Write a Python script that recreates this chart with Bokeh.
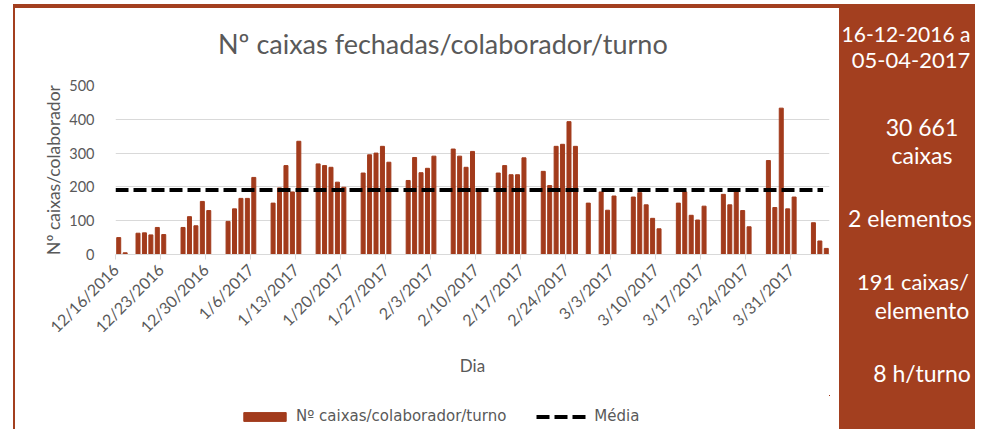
import math
import pandas as pd
from bokeh.plotting import figure
from bokeh.models import (ColumnDataSource, Range1d, FixedTicker, Legend, LegendItem, Div)
from bokeh.layouts import row, column
from bokeh.embed import file_html
from bokeh.resources import INLINE

# ---------------- data ----------------
dates = [
    "2016-12-16", "2016-12-17",
    "2016-12-19", "2016-12-20", "2016-12-21", "2016-12-22", "2016-12-23",
    "2016-12-26", "2016-12-27", "2016-12-28", "2016-12-29", "2016-12-30",
    "2017-01-02", "2017-01-03", "2017-01-04", "2017-01-05", "2017-01-06",
    "2017-01-09", "2017-01-10", "2017-01-11", "2017-01-12", "2017-01-13",
    "2017-01-16", "2017-01-17", "2017-01-18", "2017-01-19", "2017-01-20",
    "2017-01-23", "2017-01-24", "2017-01-25", "2017-01-26", "2017-01-27",
    "2017-01-30", "2017-01-31", "2017-02-01", "2017-02-02", "2017-02-03",
    "2017-02-06", "2017-02-07", "2017-02-08", "2017-02-09", "2017-02-10",
    "2017-02-13", "2017-02-14", "2017-02-15", "2017-02-16", "2017-02-17",
    "2017-02-20", "2017-02-21", "2017-02-22", "2017-02-23", "2017-02-24", "2017-02-25",
    "2017-02-27", "2017-03-01", "2017-03-02", "2017-03-03",
    "2017-03-06", "2017-03-07", "2017-03-08", "2017-03-09", "2017-03-10",
    "2017-03-13", "2017-03-14", "2017-03-15", "2017-03-16", "2017-03-17",
    "2017-03-20", "2017-03-21", "2017-03-22", "2017-03-23", "2017-03-24",
    "2017-03-27", "2017-03-28", "2017-03-29", "2017-03-30", "2017-03-31",
    "2017-04-03", "2017-04-04", "2017-04-05",
]
caixas = [
    50, 5,
    63, 64, 58, 80, 59,
    80, 112, 85, 157, 130,
    98, 135, 166, 166, 228,
    152, 197, 263, 185, 335,
    268, 263, 258, 214, 199,
    241, 295, 300, 320, 273,
    219, 287, 242, 255, 291,
    312, 291, 258, 305, 188,
    241, 263, 236, 236, 286,
    246, 204, 320, 326, 393, 320,
    152, 185, 131, 173,
    170, 183, 147, 107, 76,
    152, 185, 116, 102, 143,
    178, 147, 190, 130, 82,
    278, 139, 433, 135, 170,
    94, 40, 18,
]
media = 191

tick_dates = ["2016-12-16", "2016-12-23", "2016-12-30", "2017-01-06", "2017-01-13",
              "2017-01-20", "2017-01-27", "2017-02-03", "2017-02-10", "2017-02-17",
              "2017-02-24", "2017-03-03", "2017-03-10", "2017-03-17", "2017-03-24",
              "2017-03-31"]
tick_labels = ["12/16/2016", "12/23/2016", "12/30/2016", "1/6/2017", "1/13/2017",
               "1/20/2017", "1/27/2017", "2/3/2017", "2/10/2017", "2/17/2017",
               "2/24/2017", "3/3/2017", "3/10/2017", "3/17/2017", "3/24/2017",
               "3/31/2017"]
y_ticks = [0, 100, 200, 300, 400, 500]

title_text = "Nº caixas fechadas/colaborador/turno"
y_label = "Nº caixas/colaborador"
x_label = "Dia"
bar_label = "Nº caixas/colaborador/turno"
line_label = "Média"

panel_lines = ["16-12-2016 a", "05-04-2017", "30 661", "caixas", "2 elementos",
               "191 caixas/", "elemento", "8 h/turno"]

# ---------------- styles / layout ----------------
BAR = "#A23B1C"
PANEL = "#A33F1F"
GRAY_TXT = "#595959"
GRID = "#D9D9D9"
FONT = "Lato"

TOTAL_W, TOTAL_H = 975, 429
TOP_BAND = 8          # brown band along the top
LEFT_W = 15           # white strip + thin brown rule on the left
PANEL_X0 = 839        # start of the brown information panel
TITLE_H = 60          # title strip height
LEG_H = 34            # legend strip height
CH = TOTAL_H - TOP_BAND
W = PANEL_X0 - LEFT_W
PANEL_W = TOTAL_W - PANEL_X0
PH = CH - LEG_H - TITLE_H

start = pd.Timestamp(dates[0])
day = [(pd.Timestamp(d) - start).days for d in dates]
tick_pos = [(pd.Timestamp(d) - start).days for d in tick_dates]

src = ColumnDataSource(dict(x=[d + 0.5 for d in day], top=caixas))
line_src = ColumnDataSource(dict(x=day, y=[media] * len(day)))

# ---- title strip ----
title_div = Div(width=W, height=TITLE_H, margin=0, text=(
    f'<div style="position:relative;width:{W}px;height:{TITLE_H}px;overflow:hidden;'
    f'background:white;">'
    f'<div style="position:absolute;left:{218 - LEFT_W}px;top:{43 - TOP_BAND}px;'
    f'transform:translateY(-50%);white-space:nowrap;line-height:1;font-family:{FONT};'
    f'font-size:27px;color:{GRAY_TXT};">{title_text}</div></div>'))

# ---- chart ----
p = figure(width=W, height=PH, output_backend="svg", toolbar_location=None,
           title=None,
           x_range=Range1d(0, day[-1] + 1), y_range=Range1d(0, 500),
           min_border_left=100, min_border_right=10,
           min_border_top=85 - TOP_BAND - TITLE_H,
           min_border_bottom=PH - (254 - TOP_BAND - TITLE_H),
           background_fill_color="white", border_fill_color="white",
           outline_line_color=None)

bars = p.vbar(x="x", top="top", width=0.62, source=src, fill_color=BAR, line_color=BAR)
mline = p.line(x="x", y="y", source=line_src, line_color="black", line_width=4,
               line_dash="13 5")

xa = p.xaxis[0]
xa.ticker = FixedTicker(ticks=tick_pos)
xa.major_label_overrides = {t: l for t, l in zip(tick_pos, tick_labels)}
xa.major_label_orientation = math.pi / 4
xa.axis_line_color = GRID
xa.major_tick_line_color = GRID
xa.major_tick_out = 5
xa.major_tick_in = 0
xa.minor_tick_line_color = None
xa.major_label_text_font = FONT
xa.major_label_text_font_size = "16px"
xa.major_label_text_color = GRAY_TXT
xa.major_label_standoff = 7
xa.axis_label = x_label
xa.axis_label_text_font = FONT
xa.axis_label_text_font_size = "17px"
xa.axis_label_text_font_style = "normal"
xa.axis_label_text_color = GRAY_TXT
xa.axis_label_standoff = 9

ya = p.yaxis[0]
ya.ticker = FixedTicker(ticks=y_ticks)
ya.axis_line_color = None
ya.major_tick_line_color = None
ya.minor_tick_line_color = None
ya.major_tick_out = 0
ya.major_tick_in = 0
ya.major_label_standoff = 21
ya.major_label_text_font = FONT
ya.major_label_text_font_size = "14.5px"
ya.major_label_text_color = GRAY_TXT
ya.axis_label = y_label
ya.axis_label_text_font = FONT
ya.axis_label_text_font_size = "17.5px"
ya.axis_label_text_font_style = "normal"
ya.axis_label_text_color = GRAY_TXT
ya.axis_label_standoff = 2

p.xgrid.grid_line_color = None
p.ygrid.grid_line_color = GRID
p.ygrid.grid_line_width = 1

# ---- legend strip (same series, kept far out of view; only the legend shows) ----
lf = figure(width=W, height=LEG_H, output_backend="svg", toolbar_location=None,
            title=None, x_axis_type=None, y_axis_type=None,
            x_range=Range1d(-5000, -4999), y_range=Range1d(-5000, -4999),
            min_border_left=100, min_border_right=10, min_border_top=0,
            min_border_bottom=0, outline_line_color=None,
            background_fill_color="white", border_fill_color="white")
lf.grid.visible = False
leg_bar = lf.vbar(x="x", top="top", width=0.62, source=src, fill_color=BAR, line_color=BAR)
leg_line = lf.line(x="x", y="y", source=line_src, line_color="black", line_width=4,
                   line_dash="13 5")
legend = Legend(items=[LegendItem(label=bar_label, renderers=[leg_bar]),
                       LegendItem(label=line_label, renderers=[leg_line])],
                orientation="horizontal", location=(123, 4),
                glyph_width=53, glyph_height=11, label_standoff=5, spacing=30,
                padding=0, margin=0, border_line_color=None,
                background_fill_alpha=0, label_text_font="DejaVu Sans",
                label_text_font_size="15px", label_text_color=GRAY_TXT)
lf.add_layout(legend)

# ---- frame decorations ----
top_div = Div(width=TOTAL_W, height=TOP_BAND, margin=0, text=(
    f'<div style="position:relative;width:{TOTAL_W}px;height:{TOP_BAND}px;overflow:hidden;">'
    f'<div style="position:absolute;left:13px;top:0;width:{TOTAL_W - 13}px;height:{TOP_BAND}px;'
    f'background:{PANEL};"></div></div>'))
left_div = Div(width=LEFT_W, height=CH, margin=0, text=(
    f'<div style="position:relative;width:{LEFT_W}px;height:{CH}px;overflow:hidden;">'
    f'<div style="position:absolute;left:13px;top:0;width:2px;height:{CH}px;'
    f'background:{PANEL};"></div></div>'))

# ---- right information panel (positions in page pixels) ----
panel_x = [906, 911, 922, 922, 910, 913, 922, 922]
panel_y = [33, 60, 127, 155, 218, 282, 310, 373]
panel_fs = [21, 22, 23, 23, 23, 22, 23, 23]
spans = "".join(
    f'<div style="position:absolute;left:{x - PANEL_X0}px;top:{y - TOP_BAND}px;font-size:{fs}px;'
    f'transform:translate(-50%,-50%);white-space:nowrap;line-height:1;">{t}</div>'
    for x, y, fs, t in zip(panel_x, panel_y, panel_fs, panel_lines))
panel = Div(width=PANEL_W, height=CH, margin=0, text=(
    f'<div style="position:relative;width:{PANEL_W}px;height:{CH}px;overflow:hidden;'
    f'background:{PANEL};color:white;font-family:{FONT};">{spans}</div>'))

layout = column(top_div, row(left_div, column(title_div, p, lf), panel))
open("out.html", "w").write(file_html(layout, INLINE))
